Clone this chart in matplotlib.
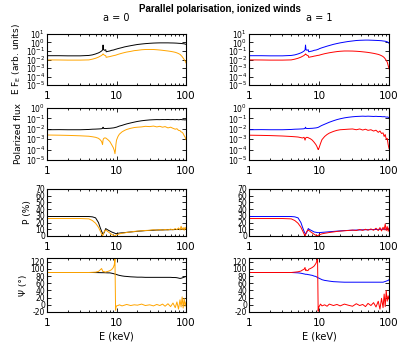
import matplotlib

matplotlib.use("Agg")
import matplotlib.pyplot as plt
from matplotlib.ticker import FixedLocator, NullLocator, NullFormatter, FuncFormatter

# Energy grid (keV), shared by all series
energy = [1.0, 1.5, 2.0, 3.0, 4.0, 4.5, 5.0, 5.5, 5.8, 6.1, 6.3, 6.4, 6.5, 6.7,
          7.0, 7.1, 7.5, 8.0, 8.5, 9.0, 9.3, 9.5, 9.7, 9.8, 10.0, 10.5, 11, 12,
          13, 14, 16, 18, 20, 23, 26, 30, 34, 38, 42, 46, 50, 55, 60, 65, 70,
          74, 78, 82, 85, 88, 91, 94, 97, 100]

# ---- a = 0 ----
spec_a0_tot = [0.028, 0.028, 0.027, 0.027, 0.03, 0.035, 0.045, 0.06, 0.075, 0.1, 0.13, 0.5,
               0.15, 0.12, 0.14, 0.08, 0.09, 0.1, 0.12, 0.13, 0.14, 0.15, 0.16, 0.16, 0.17,
               0.19, 0.21, 0.25, 0.3, 0.34, 0.42, 0.5, 0.58, 0.66, 0.73, 0.8, 0.85, 0.88,
               0.9, 0.9, 0.9, 0.9, 0.88, 0.87, 0.85, 0.83, 0.8, 0.78, 0.76, 0.74, 0.72,
               0.7, 0.65, 0.6]
spec_a0_par = [0.009, 0.0088, 0.0085, 0.0085, 0.009, 0.011, 0.014, 0.019, 0.024, 0.03, 0.038,
               0.045, 0.04, 0.032, 0.028, 0.018, 0.02, 0.022, 0.025, 0.028, 0.03, 0.031,
               0.032, 0.033, 0.035, 0.04, 0.045, 0.055, 0.065, 0.075, 0.09, 0.11, 0.12, 0.14,
               0.15, 0.15, 0.15, 0.14, 0.13, 0.12, 0.11, 0.1, 0.09, 0.08, 0.07, 0.06, 0.05,
               0.04, 0.03, 0.022, 0.015, 0.01, 0.007, 0.004]
pflux_a0_tot = [0.008, 0.0082, 0.008, 0.008, 0.0085, 0.009, 0.0092, 0.0095, 0.0097, 0.01,
                0.011, 0.014, 0.011, 0.0105, 0.0106, 0.0105, 0.0108, 0.011, 0.0115, 0.012,
                0.0125, 0.013, 0.0135, 0.0138, 0.014, 0.016, 0.018, 0.021, 0.025, 0.029,
                0.036, 0.043, 0.05, 0.058, 0.064, 0.07, 0.073, 0.075, 0.074, 0.076, 0.075,
                0.077, 0.074, 0.076, 0.073, 0.077, 0.072, 0.075, 0.078, 0.072, 0.074, 0.07,
                0.072, 0.07]
pflux_a0_par = [0.0025, 0.0024, 0.0023, 0.0021, 0.0019, 0.0017, 0.0015, 0.0012, 0.0009,
                0.0006, 0.0003, 0.0008, 0.0011, 0.0013, 0.0013, 0.0012, 0.0009, 0.0006,
                0.0003, 0.00015, 0.00008, 0.00004, 0.00012, 0.0003, 0.0008, 0.0018, 0.003,
                0.005, 0.0068, 0.0085, 0.011, 0.013, 0.014, 0.015, 0.017, 0.016, 0.018,
                0.015, 0.017, 0.014, 0.016, 0.012, 0.014, 0.011, 0.009, 0.01, 0.007, 0.0065,
                0.005, 0.0045, 0.0035, 0.0022, 0.0016, 0.0009]
pdeg_a0_tot = [29, 29, 29, 29, 29, 28.5, 27, 20, 13, 7, 4, 3, 3.5, 6, 11, 10.5, 9, 7.5, 6, 5,
               4.5, 4, 3.5, 3.5, 3.5, 4, 4.3, 4.7, 5, 5.4, 6, 6.5, 7, 7.5, 8, 8.3, 8.6, 8.8,
               9, 9, 9.2, 9.3, 9.4, 9.5, 9.6, 9.7, 9.8, 9.9, 10, 10, 10.1, 10.2, 10.3, 10.5]
pdeg_a0_par = [26, 26, 26, 26, 25.5, 23, 19, 13, 8, 3, 0.5, 1.5, 4, 7, 9, 8.5, 6.5, 4.5, 2.5,
               1, 0.5, 0.3, 0.8, 1.2, 1.8, 2.5, 3.2, 4, 4.6, 5.2, 6, 6.8, 7.2, 7.8, 8.2, 8.5,
               9.3, 8.7, 9.5, 8.8, 9.6, 9.0, 10.2, 9.1, 11, 9.4, 12, 9, 14.5, 9.5, 12.5, 8.5,
               13, 10]
pang_a0_tot = [90, 90, 90, 90, 90, 90, 89.8, 89.7, 89.6, 89.5, 89.5, 89.5, 89.5, 89.4, 89.3,
               89.2, 89, 89, 88, 87, 86, 86, 85, 85, 84.5, 83, 82, 80.5, 79.5, 79, 78, 77.5,
               77, 77, 76.5, 76.5, 76.5, 76.5, 76.5, 76.5, 76.5, 76.5, 76.5, 76, 76, 75.5,
               74.5, 73.5, 74, 75, 76, 77, 78, 79]
pang_a0_par = [90, 90, 90, 90, 90, 90.5, 91, 93, 97, 101, 95, 92, 93, 92, 91, 92, 93, 95, 98,
               104, 112, 128, -15, -8, -3, -2, 0, -3, -1, 1, -2, 0, -1, 2, -2, 0, -3, 1, -2,
               2, -4, 3, -5, 5, -8, 8, -12, 14, -6, 22, -9, 18, -4, 8]

# ---- a = 1 ----
spec_a1_tot = [0.028, 0.028, 0.027, 0.027, 0.03, 0.035, 0.045, 0.06, 0.075, 0.1, 0.13, 0.5,
               0.15, 0.12, 0.14, 0.08, 0.09, 0.1, 0.12, 0.13, 0.14, 0.15, 0.16, 0.16, 0.18,
               0.21, 0.24, 0.3, 0.37, 0.44, 0.6, 0.75, 0.9, 1.1, 1.3, 1.5, 1.7, 1.8, 1.85,
               1.9, 1.9, 1.85, 1.8, 1.75, 1.7, 1.65, 1.6, 1.5, 1.45, 1.4, 1.3, 1.2, 1.0, 0.8]
spec_a1_par = [0.009, 0.0088, 0.0085, 0.0085, 0.009, 0.011, 0.014, 0.019, 0.024, 0.03, 0.038,
               0.045, 0.04, 0.032, 0.028, 0.018, 0.02, 0.022, 0.025, 0.027, 0.029, 0.03,
               0.031, 0.031, 0.032, 0.036, 0.04, 0.048, 0.055, 0.062, 0.074, 0.085, 0.093,
               0.1, 0.1, 0.098, 0.093, 0.087, 0.08, 0.074, 0.068, 0.06, 0.053, 0.046, 0.04,
               0.034, 0.028, 0.022, 0.017, 0.012, 0.008, 0.005, 0.002, 0.0008]
pflux_a1_tot = [0.008, 0.0082, 0.008, 0.008, 0.0085, 0.009, 0.0092, 0.0095, 0.0097, 0.01,
                0.011, 0.014, 0.011, 0.0105, 0.0106, 0.0105, 0.0108, 0.011, 0.0115, 0.012,
                0.0125, 0.013, 0.0135, 0.014, 0.015, 0.018, 0.021, 0.027, 0.034, 0.042,
                0.058, 0.075, 0.09, 0.11, 0.125, 0.14, 0.15, 0.155, 0.16, 0.155, 0.16, 0.155,
                0.15, 0.155, 0.148, 0.15, 0.145, 0.14, 0.145, 0.138, 0.13, 0.135, 0.125, 0.12]
pflux_a1_par = [0.0024, 0.0023, 0.0022, 0.002, 0.0018, 0.0017, 0.0016, 0.0014, 0.0013,
                0.0015, 0.0008, 0.0012, 0.0014, 0.0015, 0.0014, 0.0013, 0.0011, 0.0008,
                0.0005, 0.0003, 0.0002, 0.00014, 0.0001, 0.00011, 0.00015, 0.0004, 0.0009,
                0.0018, 0.0028, 0.0038, 0.0055, 0.007, 0.008, 0.0085, 0.009, 0.0095, 0.008,
                0.0095, 0.0075, 0.009, 0.007, 0.008, 0.006, 0.0072, 0.0045, 0.006, 0.0035,
                0.004, 0.0018, 0.0028, 0.001, 0.0012, 0.0003, 0.00012]
pdeg_a1_tot = [29, 29, 29, 29, 29, 28.5, 27, 20, 13, 7, 4, 3, 3.5, 6, 11, 10.5, 9, 7.5, 6, 5.5,
               5.2, 5, 5, 5, 5, 5.2, 5.4, 5.7, 6, 6.3, 6.8, 7.2, 7.6, 8, 8.3, 8.6, 8.8, 9,
               9.2, 9.3, 9.4, 9.5, 9.6, 9.7, 9.8, 9.9, 10, 10, 10.1, 10.2, 10.3, 10.4, 10.5,
               10.6]
pdeg_a1_par = [26, 26, 26, 26, 25.5, 23, 19, 13, 8, 3, 0.5, 1.5, 4, 7, 9, 8.5, 6.5, 4.5, 2.5,
               1, 0.5, 0.3, 0.8, 1.2, 1.8, 2.5, 3.2, 4, 4.6, 5.2, 6, 6.8, 7.2, 7.8, 8.2, 8.8,
               8.2, 9.6, 8.4, 10, 8.6, 10.5, 8.5, 11.5, 8, 12.5, 7.5, 13, 9, 18, 8, 14, 7, 12]
pang_a1_tot = [90, 90, 90, 90, 90, 89.5, 89, 88, 87, 86, 85.5, 85, 85, 85, 84, 84, 83, 82, 80,
               79, 77, 76, 75, 75, 74, 72, 70, 68, 67, 66, 64.5, 64, 63.5, 63, 63, 63, 63, 63,
               63, 63, 63, 63, 63, 63, 63, 63, 63, 63, 64, 65, 66, 67, 68, 70]
pang_a1_par = [90, 90, 90, 90, 90, 91, 92, 94, 97, 99, 104, 96, 98, 95, 96, 99, 101, 104, 108,
               115, 122, 132, -18, -10, -5, 2, -3, 0, -4, 2, -2, 1, -3, 2, -1, -4, 3, -2, 1,
               -5, 4, -2, 6, -6, 10, -12, 18, -8, 30, -5, 40, 10, 25, 15]

columns = [
    ("a = 0", "black", "orange",
     [spec_a0_tot, pflux_a0_tot, pdeg_a0_tot, pang_a0_tot],
     [spec_a0_par, pflux_a0_par, pdeg_a0_par, pang_a0_par]),
    ("a = 1", "blue", "red",
     [spec_a1_tot, pflux_a1_tot, pdeg_a1_tot, pang_a1_tot],
     [spec_a1_par, pflux_a1_par, pdeg_a1_par, pang_a1_par]),
]

row_labels = ["E F$_E$ (arb. units)", "Polarized flux", "P (%)", "Ψ (°)"]
row_ylims = [(1e-5, 10), (1e-5, 1), (0, 70), (-20, 130)]
row_log = [True, True, False, False]
row_yticks = [[1e-5, 1e-4, 1e-3, 1e-2, 1e-1, 1, 10],
              [1e-5, 1e-4, 1e-3, 1e-2, 1e-1, 1],
              list(range(0, 71, 10)),
              list(range(-20, 121, 20))]

# axes boxes in figure fractions: (bottom, height) per row, (left, width) per column
row_boxes = [(0.752, 0.149), (0.5335, 0.152), (0.312, 0.137), (0.0904, 0.157)]
col_boxes = [(0.1155, 0.3415), (0.612, 0.344)]

plt.rcParams["font.family"] = "DejaVu Sans"
plt.rcParams["mathtext.default"] = "regular"
fig = plt.figure(figsize=(4.07, 3.43), dpi=100)

for c, (title, col_tot, col_par, tot, par) in enumerate(columns):
    left, width = col_boxes[c]
    for r in range(4):
        bottom, height = row_boxes[r]
        ax = fig.add_axes([left, bottom, width, height])
        ax.plot(energy, tot[r], color=col_tot, lw=0.7)
        ax.plot(energy, par[r], color=col_par, lw=0.7)
        ax.set_xscale("log")
        ax.set_xlim(1, 100)
        if row_log[r]:
            ax.set_yscale("log")
        ax.set_ylim(*row_ylims[r])
        ax.yaxis.set_major_locator(FixedLocator(row_yticks[r]))
        ax.yaxis.set_minor_locator(NullLocator())
        if not row_log[r]:
            ax.yaxis.set_major_formatter(FuncFormatter(lambda v, p: f"{v:g}"))
        ax.xaxis.set_major_locator(FixedLocator([1, 10, 100]))
        ax.xaxis.set_major_formatter(FuncFormatter(lambda v, p: f"{v:g}"))
        ax.xaxis.set_minor_formatter(NullFormatter())
        ax.tick_params(which="both", direction="in", top=True, right=True, width=0.6)
        ax.tick_params(which="major", length=3)
        ax.tick_params(which="minor", length=1.5)
        ax.tick_params(axis="x", labelsize=7.5, pad=4)
        ax.tick_params(axis="y", labelsize=5.5, pad=1.5)
        for sp in ax.spines.values():
            sp.set_linewidth(0.8)
        if c == 0:
            ax.set_ylabel(row_labels[r], fontsize=6.5, labelpad=2)
        if r == 0:
            ax.set_title(title, fontsize=7, pad=9)
        if r == 3:
            ax.set_xlabel("E (keV)", fontsize=7, labelpad=3)

fig.text(0.54, 0.975, "Parallel polarisation, ionized winds", ha="center", va="center",
         fontsize=7, fontweight="bold", family="Liberation Sans")
fig.savefig("out.png", dpi=100)
